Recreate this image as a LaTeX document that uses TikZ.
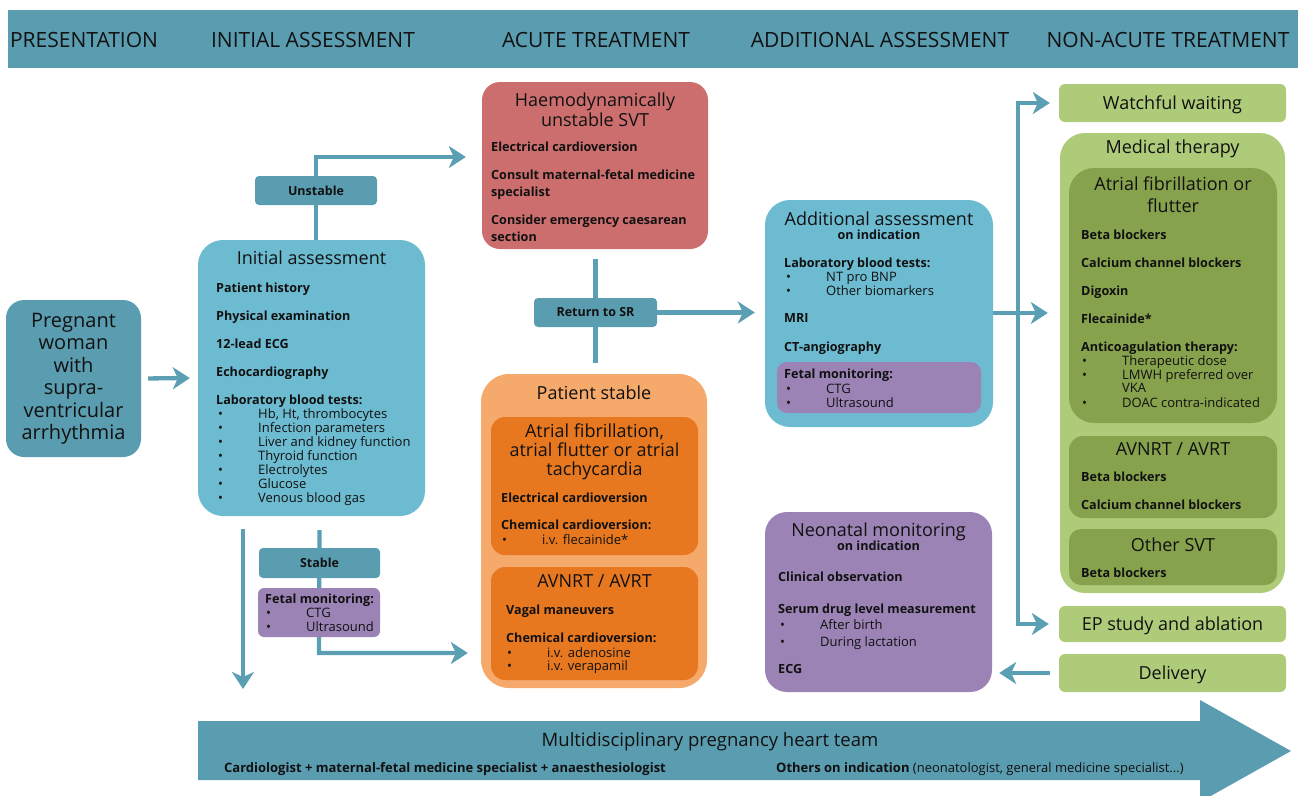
\documentclass[tikz,border=0pt]{standalone}
\usepackage{fontspec}
\setmainfont{Open Sans}
\usetikzlibrary{arrows.meta,fit,calc}
\definecolor{cTeal}{HTML}{5B9DB0}
\definecolor{cArr}{HTML}{5A9FB4}
\definecolor{cBlue}{HTML}{6DBBD1}
\definecolor{cRed}{HTML}{CC6E6E}
\definecolor{cOrL}{HTML}{F5A96B}
\definecolor{cOrD}{HTML}{E8781F}
\definecolor{cPur}{HTML}{9B84B5}
\definecolor{cGrL}{HTML}{AECB7A}
\definecolor{cGrD}{HTML}{87A24C}
\definecolor{cTxt}{HTML}{111111}
\pgfdeclarelayer{bg}
\pgfsetlayers{bg,main}
\tikzset{
  box/.style={inner sep=0pt, draw=none, rounded corners=#1},
  hd/.style={font=\fontsize{21}{24}\selectfont, text=cTxt, anchor=base, inner sep=0pt, yshift=-1pt},
  ttl/.style={font=\fontsize{18}{21}\selectfont, text=cTxt, anchor=base, inner sep=0pt, yshift=-1pt},
  itm/.style={font=\bfseries\fontsize{12.6}{15}\selectfont, text=cTxt, anchor=base west, inner sep=0pt},
  sub/.style={font=\bfseries\fontsize{12.6}{15}\selectfont, text=cTxt, anchor=base, inner sep=0pt},
  bul/.style={font=\fontsize{13}{15}\selectfont, text=cTxt, anchor=base west, inner sep=0pt},
  lab/.style={font=\bfseries\fontsize{12.5}{15}\selectfont, text=cTxt},
  arr/.style={draw=cArr, line width=4.3pt, -{Stealth[length=17pt,width=22pt,inset=5pt]}},
  conn/.style={draw=cArr, line width=4.3pt}
}
\newcommand\bitem[3]{\node[bul] (#1) at (#2) {\makebox[40pt][l]{\textbullet}#3};}
\begin{document}
\begin{tikzpicture}[x=1pt,y=-1pt]
\useasboundingbox (0,0) rectangle (1298,795);
% header
\node[box=0pt, fill=cTeal, fit={(8,10)(1298,68)}] (hdr) {};
\node[hd] (h1) at (84,46.5) {PRESENTATION};
\node[hd] (h2) at (313,46.5) {INITIAL ASSESSMENT};
\node[hd] (h3) at (596,46.5) {ACUTE TREATMENT};
\node[hd] (h4) at (880,46.5) {ADDITIONAL ASSESSMENT};
\node[hd] (h5) at (1168,46.5) {NON-ACUTE TREATMENT};
% boxes
\node[box=18pt, fill=cTeal, fit={(6,300)(141,457)}] (preg) {};
\node[align=center, font=\fontsize{20}{22.5}\selectfont, text=cTxt, inner sep=0pt] (pregtxt) at (73.5,379) {Pregnant\\woman\\with\\supra-\\ventricular\\arrhythmia};
\node[box=25pt, fill=cBlue, fit={(198,240)(425,516)}] (init) {};
\node[box=4pt, fill=cTeal, fit={(255,176)(377,205)}] (unst) {};
\node[lab] (unsttxt) at (unst) {Unstable};
\node[box=4pt, fill=cTeal, fit={(259,548)(380,578)}] (stab) {};
\node[lab] (stabtxt) at (stab) {Stable};
\node[box=6pt, fill=cPur, fit={(258,588)(380,637)}] (fm1) {};
\node[box=18pt, fill=cRed, fit={(482,82)(708,249)}] (hsvt) {};
\node[box=4pt, fill=cTeal, fit={(534,298)(657,327)}] (rsr) {};
\node[lab] (rsrtxt) at (rsr) {Return to SR};
\node[box=28pt, fill=cOrL, fit={(481,374)(707,688)}] (ps) {};
\node[box=14pt, fill=cOrD, fit={(491,417)(698,555)}] (af) {};
\node[box=14pt, fill=cOrD, fit={(491,567)(698,680)}] (avn) {};
\node[box=25pt, fill=cBlue, fit={(765,200)(993,427)}] (add) {};
\node[box=10pt, fill=cPur, fit={(777,362)(981,413)}] (fm2) {};
\node[box=22pt, fill=cPur, fit={(765,512)(992,692)}] (neo) {};
\node[box=6pt, fill=cGrL, fit={(1059,84)(1286,122)}] (watch) {};
\node[box=25pt, fill=cGrL, fit={(1060,133)(1285,593)}] (med) {};
\node[box=25pt, fill=cGrD, fit={(1069,168)(1277,423)}] (maf) {};
\node[box=14pt, fill=cGrD, fit={(1069,436)(1277,518)}] (mav) {};
\node[box=12pt, fill=cGrD, fit={(1069,529)(1277,585)}] (mot) {};
\node[box=6pt, fill=cGrL, fit={(1059,606)(1286,642)}] (ep) {};
\node[box=6pt, fill=cGrL, fit={(1059,654)(1286,692)}] (deliv) {};
% initial assessment
\node[ttl] (iat) at (311.5,263.5) {Initial assessment};
\node[itm] (ia1) at (216,292) {Patient history};
\node[itm] (ia2) at (216,320) {Physical examination};
\node[itm] (ia3) at (216,348) {12-lead ECG};
\node[itm] (ia4) at (216,376) {Echocardiography};
\node[itm] (ia5) at (216,404) {Laboratory blood tests:};
\bitem{ib1}{218,418}{Hb, Ht, thrombocytes}
\bitem{ib2}{218,432}{Infection parameters}
\bitem{ib3}{218,446}{Liver and kidney function}
\bitem{ib4}{218,460}{Thyroid function}
\bitem{ib5}{218,474}{Electrolytes}
\bitem{ib6}{218,488}{Glucose}
\bitem{ib7}{218,502}{Venous blood gas}
% fetal monitoring 1
\node[itm] (fa1) at (265,603) {Fetal monitoring:};
\bitem{fb1}{266,617}{CTG}
\bitem{fb2}{266,631}{Ultrasound}
% haemodynamically unstable
\node[ttl] (hst1) at (595,105.5) {Haemodynamically};
\node[ttl] (hst2) at (595,125.5) {unstable SVT};
\node[itm] (hs1) at (491,151) {Electrical cardioversion};
\node[itm] (hs2) at (491,179) {Consult maternal-fetal medicine};
\node[itm] (hs3) at (491,196) {specialist};
\node[itm] (hs4) at (491,224) {Consider emergency caesarean};
\node[itm] (hs5) at (491,241) {section};
% patient stable
\node[ttl] (pst) at (594,398.5) {Patient stable};
\node[ttl] (aft1) at (594.5,436.5) {Atrial fibrillation,};
\node[ttl] (aft2) at (594.5,455.5) {atrial flutter or atrial};
\node[ttl] (aft3) at (594.5,474.5) {tachycardia};
\node[itm] (af1) at (501,502) {Electrical cardioversion};
\node[itm] (af2) at (501,529) {Chemical cardioversion:};
\bitem{afb1}{502,544}{i.v. flecainide*}
\node[ttl] (avt) at (594.5,586.5) {AVNRT / AVRT};
\node[itm] (av1) at (506,614) {Vagal maneuvers};
\node[itm] (av2) at (506,642) {Chemical cardioversion:};
\bitem{avb1}{507,657}{i.v. adenosine}
\bitem{avb2}{507,670}{i.v. verapamil}
% additional assessment
\node[ttl] (adt) at (879,224.5) {Additional assessment};
\node[sub] (ads) at (879,239.5) {on indication};
\node[itm] (ad1) at (784,267) {Laboratory blood tests:};
\bitem{adb1}{786,281}{NT pro BNP}
\bitem{adb2}{786,295}{Other biomarkers}
\node[itm] (ad2) at (784,322) {MRI};
\node[itm] (ad3) at (784,351) {CT-angiography};
\node[itm] (ad4) at (784,378) {Fetal monitoring:};
\bitem{adb3}{786,393}{CTG}
\bitem{adb4}{786,407}{Ultrasound}
% neonatal monitoring
\node[ttl] (nt) at (878.5,535.5) {Neonatal monitoring};
\node[sub] (ns) at (878.5,550) {on indication};
\node[itm] (n1) at (778,581) {Clinical observation};
\node[itm] (n2) at (778,613) {Serum drug level measurement};
\bitem{nb1}{780,629}{After birth}
\bitem{nb2}{780,646}{During lactation}
\node[itm] (n3) at (778,673) {ECG};
% non-acute treatment
\node[ttl] (wt) at (1172.5,108.5) {Watchful waiting};
\node[ttl] (mt) at (1172.5,152.5) {Medical therapy};
\node[ttl] (mat1) at (1173,189.5) {Atrial fibrillation or};
\node[ttl] (mat2) at (1173,211.5) {flutter};
\node[itm] (ma1) at (1081,239) {Beta blockers};
\node[itm] (ma2) at (1081,267) {Calcium channel blockers};
\node[itm] (ma3) at (1081,295) {Digoxin};
\node[itm] (ma4) at (1081,323) {Flecainide*};
\node[itm] (ma5) at (1081,351) {Anticoagulation therapy:};
\bitem{mab1}{1082,365}{Therapeutic dose}
\bitem{mab2}{1082,379}{LMWH preferred over}
\node[bul] (mab3) at (1122,392) {VKA};
\bitem{mab4}{1082,407}{DOAC contra-indicated}
\node[ttl] (mvt) at (1173,454.5) {AVNRT / AVRT};
\node[itm] (mv1) at (1081,481) {Beta blockers};
\node[itm] (mv2) at (1081,509) {Calcium channel blockers};
\node[ttl] (mot1) at (1173,550.5) {Other SVT};
\node[itm] (mo1) at (1081,577) {Beta blockers};
\node[ttl] (ept) at (1172.5,629.5) {EP study and ablation};
\node[ttl] (dt) at (1172.5,678.5) {Delivery};
% team banner
\fill[cTeal] (198,721) -- (1200,721) -- (1200,700) -- (1291,751) -- (1200,802) -- (1200,780) -- (198,780) -- cycle;
\coordinate (teamtop) at (243,721);
\node[ttl, font=\fontsize{18.5}{21}\selectfont] (bt) at (710,745) {Multidisciplinary pregnancy heart team};
\node[itm, font=\bfseries\fontsize{13}{15}\selectfont] (bl) at (224,772.5) {Cardiologist + maternal-fetal medicine specialist + anaesthesiologist};
\node[itm, font=\bfseries\fontsize{13}{15}\selectfont] (br) at (776,772.5) {Others on indication \mdseries(neonatologist, general medicine specialist...)};
% connectors
\coordinate (unstbend) at (316,157);
\coordinate (stabbend) at (319,653);
\coordinate (split) at (1018,313);
\begin{pgfonlayer}{bg}
\draw[arr, shorten <=7pt, shorten >=8pt] (preg.east) -- (init.west);
\draw[arr, shorten >=16pt] (init.north -| unst.center) -- (unstbend) -- (unstbend -| hsvt.west);
\draw[arr, shorten >=13pt] ([yshift=-14pt]init.south -| stab.center) -- (stabbend) -- (stabbend -| ps.west);
\draw[arr, shorten >=32pt] ([yshift=-13pt]init.south -| teamtop) -- (teamtop);
\draw[conn, shorten <=10pt, shorten >=11pt] (hsvt.south -| rsr.center) -- (ps.north -| rsr.center);
\draw[arr, shorten >=10pt] (rsr.east) -- (add.west |- rsr.east);
\draw[arr, shorten >=12pt] (add.east |- split) -- (med.west |- split);
\draw[arr, shorten >=9pt] (split) |- (watch.west);
\draw[arr, shorten >=10pt] (split) |- (ep.west);
\draw[arr, shorten <=9pt, shorten >=7pt] (deliv.west) -- (neo.east |- deliv.west);
\end{pgfonlayer}
\end{tikzpicture}
\end{document}
